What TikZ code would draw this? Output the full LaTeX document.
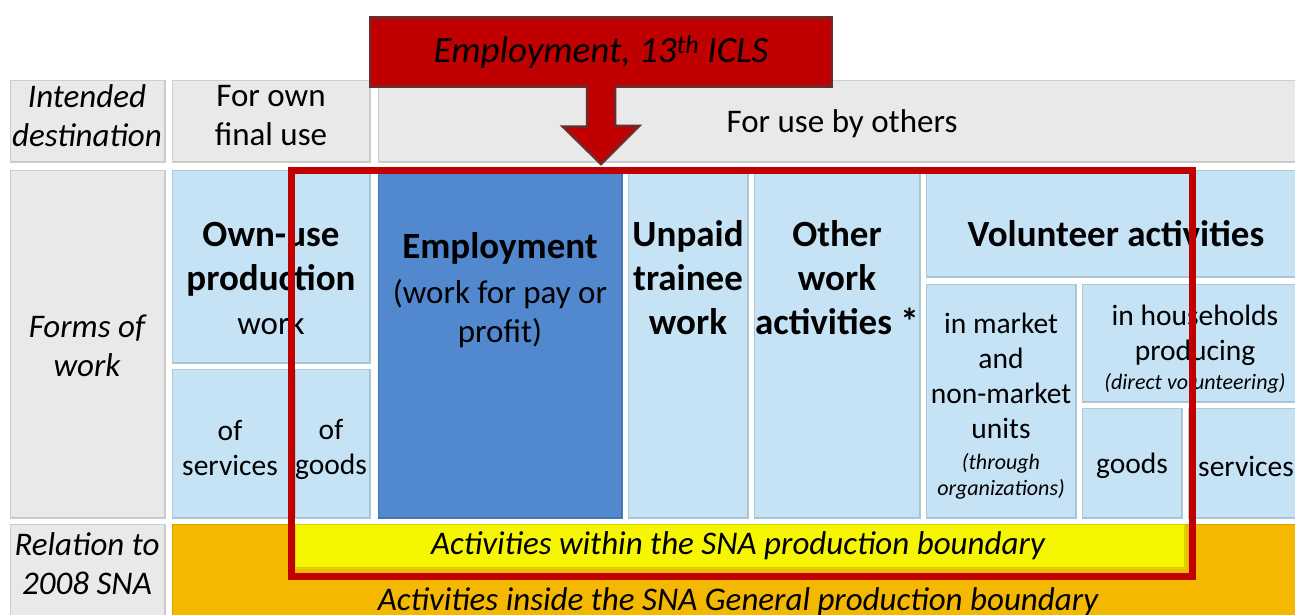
\documentclass[tikz,border=0pt]{standalone}
\usepackage{fontspec}
\setmainfont{Carlito}
\usetikzlibrary{positioning}

\definecolor{hdgray}{HTML}{E9E9E9}
\definecolor{lightblue}{HTML}{C6E3F6}
\definecolor{empblue}{HTML}{5188CE}
\definecolor{snaorange}{HTML}{F5B800}
\definecolor{snayellow}{HTML}{F6F600}
\definecolor{framered}{HTML}{C00000}
\definecolor{calloutedge}{HTML}{6E2B2B}

\tikzset{
  cell/.style={fill=#1, draw=#1!88!black, line width=0.5pt, inner sep=0pt, anchor=north west,
    path picture={
      \draw[#1!65!black, line width=3pt, opacity=0.4] (path picture bounding box.south west) -- (path picture bounding box.south east) -- (path picture bounding box.north east);
      \draw[white, line width=2pt, opacity=0.5] (path picture bounding box.south west) -- (path picture bounding box.north west) -- (path picture bounding box.north east);
    }},
  wh/.style 2 args={minimum width=#1pt, minimum height=#2pt},
  txt/.style={align=center, inner sep=0pt, font=\fontsize{33}{39}\selectfont},
  txtit/.style={txt, font=\fontsize{33}{39}\selectfont\itshape},
  ttl/.style={txt, font=\fontsize{37}{44}\selectfont\bfseries},
  sml/.style={txt, font=\fontsize{29.5}{35}\selectfont},
  snaframe/.style={draw=framered, line width=7pt},
}

\newcommand{\notefont}{\fontsize{22}{27}\selectfont\itshape}

\begin{document}
\begin{tikzpicture}[x=1pt, y=-1pt]
\useasboundingbox (0,0) rectangle (1295,615);
\clip (0,0) rectangle (1295,615);

% intended destination
\node[cell=hdgray, wh={155}{82}] (dest0) at (10,80) {};
\node[cell=hdgray, wh={198}{82}] (dest1) at (172,80) {};
\node[cell=hdgray, wh={928}{82}] (dest2) at (378,80) {};

% forms of work
\node[cell=hdgray, wh={155}{348}] (form0) at (10,170) {};
\node[cell=lightblue, wh={198}{193}] (own) at (172,170) {};
\node[cell=lightblue, wh={118}{149}] (ownsrv) at (172,369) {};
\node[cell=lightblue, wh={75}{149}] (owngds) at (295,369) {};
\node[cell=empblue, wh={244}{348}] (emp) at (378,170) {};
\node[cell=lightblue, wh={120}{348}] (train) at (628,170) {};
\node[cell=lightblue, wh={166}{348}] (other) at (754,170) {};
\node[cell=lightblue, wh={380}{107}] (vol) at (926,170) {};
\node[cell=lightblue, wh={150}{234}] (volmkt) at (926,284) {};
\node[cell=lightblue, wh={224}{118}] (volhh) at (1082,284) {};
\node[cell=lightblue, wh={100}{110}] (volgds) at (1082,408) {};
\node[cell=lightblue, wh={118}{110}] (volsrv) at (1188,408) {};

% relation to SNA
\node[cell=hdgray, wh={155}{101}] (rel0) at (10,524) {};
\node[cell=snaorange, wh={1134}{101}] (general) at (172,524) {};
\node[cell=snayellow, wh={890}{44}] (within) at (295,524) {};

% texts
\node[txtit] (tdest) at (87,116) {Intended\\destination};
\node[txt] (tfinal) at (271,116) {For own\\final use};
\node[txt] (tothers) at (842,124) {For use by others};
\node[txtit] (tforms) at (87,346) {Forms of\\work};
\node[txtit] (trel) at (87,564) {Relation to\\2008 SNA};
\node[ttl] (town) at (271,278) {Own-use\\production\\{\mdseries\fontsize{33}{39}\selectfont work}};
\node[sml] (tsrv) at (230,448) {of\\services};
\node[sml] (tgds) at (331,449) {of\\goods};
\node[txt] (temp) at (500,290) {{\bfseries\fontsize{37}{44}\selectfont Employment}\\[6pt](work for pay or\\profit)};
\node[ttl] (ttrain) at (688,278) {Unpaid\\trainee\\work};
\node[ttl] (tother) at (837,278) {Other\\work\\activities *};
\node[ttl] (tvol) at (1116,234) {Volunteer activities};
\node[sml] (tmkt) at (1001,406) {in market\\and\\non-market\\units\\[-4pt]{\notefont (through}\\[-9pt]{\notefont organizations)}};
\node[sml] (thh) at (1195,349) {in households\\producing\\[-6pt]{\notefont (direct volunteering)}};
\node[sml] (tvgds) at (1132,466) {goods};
\node[sml] (tvsrv) at (1246,466) {services};
\node[txtit] (twithin) at (738,546) {Activities within the SNA production boundary};
\node[txtit] (tgeneral) at (738,602) {Activities inside the SNA General production boundary};

% 13th ICLS boundary
\node[snaframe, wh={901}{406}, anchor=north west] (icls) at (287.5,167) {};

% callout
\node[fill=framered, draw=calloutedge, line width=2.5pt, wh={462}{69}, txtit, font=\fontsize{37}{44}\selectfont\itshape] (callout) at (601,52) {Employment, 13\textsuperscript{th} ICLS};
\coordinate (tip) at (601,164);
\fill[framered] ([xshift=-14pt, yshift=3pt]callout.south) -- ++(0,42) -- ++(-24,0) -- (tip) -- ++(38,-38) -- ++(-24,0) -- ([xshift=14pt, yshift=3pt]callout.south) -- cycle;
\draw[calloutedge, line width=2.5pt, line join=miter] ([xshift=-14pt]callout.south) -- ++(0,39) -- ++(-24,0) -- (tip) -- ++(38,-38) -- ++(-24,0) -- ([xshift=14pt]callout.south);
\end{tikzpicture}
\end{document}
